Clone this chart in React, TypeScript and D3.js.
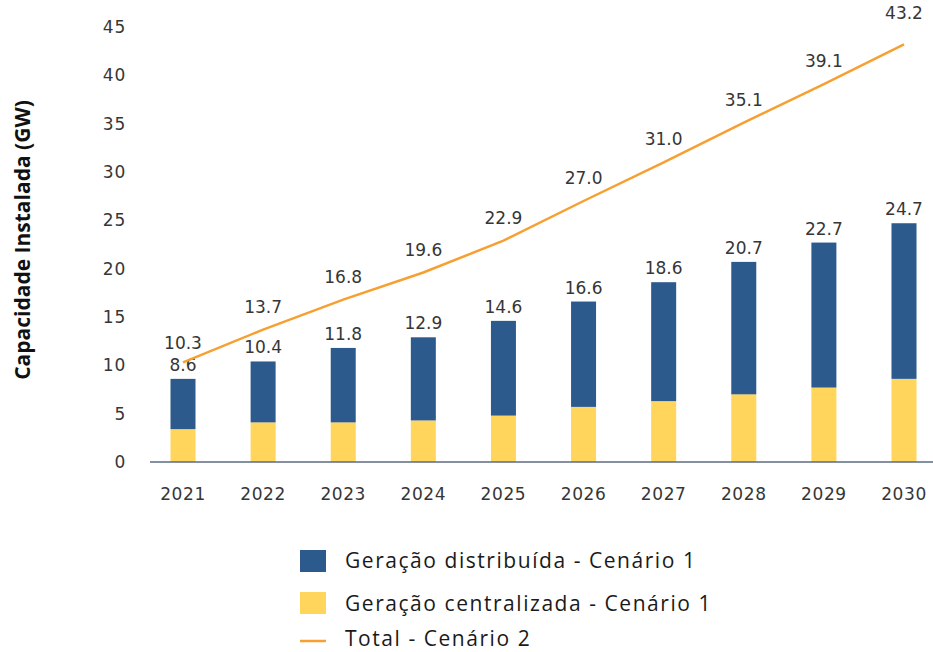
import { useEffect, useRef } from "react";
import * as d3 from "d3";

const years = ["2021", "2022", "2023", "2024", "2025", "2026", "2027", "2028", "2029", "2030"];
const distribuida = [5.2, 6.3, 7.7, 8.6, 9.8, 10.9, 12.3, 13.7, 15.0, 16.1];
const centralizada = [3.4, 4.1, 4.1, 4.3, 4.8, 5.7, 6.3, 7.0, 7.7, 8.6];
const barTotals = [8.6, 10.4, 11.8, 12.9, 14.6, 16.6, 18.6, 20.7, 22.7, 24.7];
const total2 = [10.3, 13.7, 16.8, 19.6, 22.9, 27.0, 31.0, 35.1, 39.1, 43.2];
const yTicks = [0, 5, 10, 15, 20, 25, 30, 35, 40, 45];

const BLUE = "#2d5a8c";
const YELLOW = "#ffd55c";
const ORANGE = "#f7a031";
const TEXT = "#363636";
const NUM_FONT = "'DejaVu Sans', sans-serif";
const LEG_FONT = "'Open Sans', 'Noto Sans', sans-serif";

export default function App() {
  const svgRef = useRef<SVGSVGElement>(null);

  useEffect(() => {
    if (!svgRef.current) return;
    const W = 933;
    const H = 652;
    const svg = d3.select(svgRef.current);
    svg.selectAll("*").remove();
    svg.attr("width", W).attr("height", H).attr("viewBox", `0 0 ${W} ${H}`);

    const x = d3.scalePoint<string>().domain(years).range([183, 904]);
    const y = d3.scaleLinear().domain([0, 45]).range([462, 27]);
    const barW = 25;

    // y ticks
    svg.append("g")
      .selectAll("text")
      .data(yTicks)
      .enter()
      .append("text")
      .attr("x", 126)
      .attr("y", d => y(d))
      .attr("dy", "0.35em")
      .attr("text-anchor", "end")
      .attr("font-family", NUM_FONT)
      .attr("font-size", 17)
      .attr("letter-spacing", 0.8)
      .attr("fill", TEXT)
      .text(d => d);

    // y title
    svg.append("text")
      .attr("transform", `translate(30,240) rotate(-90)`)
      .attr("text-anchor", "middle")
      .attr("font-family", LEG_FONT)
      .attr("font-weight", "bold")
      .attr("font-size", 21)
      .attr("fill", "#111")
      .text("Capacidade Instalada (GW)");

    // bars
    const g = svg.append("g");
    g.selectAll(".cen")
      .data(years)
      .enter()
      .append("rect")
      .attr("x", d => x(d)! - barW / 2)
      .attr("width", barW)
      .attr("y", (_d, i) => y(centralizada[i]))
      .attr("height", (_d, i) => y(0) - y(centralizada[i]))
      .attr("fill", YELLOW);
    g.selectAll(".dist")
      .data(years)
      .enter()
      .append("rect")
      .attr("x", d => x(d)! - barW / 2)
      .attr("width", barW)
      .attr("y", (_d, i) => y(centralizada[i] + distribuida[i]))
      .attr("height", (_d, i) => y(centralizada[i]) - y(centralizada[i] + distribuida[i]))
      .attr("fill", BLUE);

    // axis line
    svg.append("line")
      .attr("x1", 150).attr("x2", 933)
      .attr("y1", y(0)).attr("y2", y(0))
      .attr("stroke", "#5b6a82")
      .attr("stroke-width", 1.5);

    // x labels
    svg.append("g")
      .selectAll("text")
      .data(years)
      .enter()
      .append("text")
      .attr("x", d => x(d)!)
      .attr("y", 500)
      .attr("text-anchor", "middle")
      .attr("font-family", NUM_FONT)
      .attr("font-size", 17)
      .attr("letter-spacing", 0.6)
      .attr("fill", TEXT)
      .text(d => d);

    // bar labels
    svg.append("g")
      .selectAll("text")
      .data(years)
      .enter()
      .append("text")
      .attr("x", d => x(d)!)
      .attr("y", (_d, i) => y(barTotals[i]) - 8)
      .attr("text-anchor", "middle")
      .attr("font-family", NUM_FONT)
      .attr("font-size", 17)
      .attr("fill", TEXT)
      .text((_d, i) => barTotals[i].toFixed(1));

    // total line
    const line = d3.line<number>()
      .x((_d, i) => x(years[i])!)
      .y(d => y(d));
    svg.append("path")
      .datum(total2)
      .attr("d", line)
      .attr("fill", "none")
      .attr("stroke", ORANGE)
      .attr("stroke-width", 2.5);

    svg.append("g")
      .selectAll("text")
      .data(total2)
      .enter()
      .append("text")
      .attr("x", (_d, i) => x(years[i])!)
      .attr("y", (d, i) => y(d) - (i === 0 ? 13 : i === years.length - 1 ? 25 : 17))
      .attr("text-anchor", "middle")
      .attr("font-family", NUM_FONT)
      .attr("font-size", 17)
      .attr("fill", TEXT)
      .text(d => d.toFixed(1));

    // legend
    const leg = svg.append("g").attr("font-family", LEG_FONT).attr("font-size", 21)
      .attr("letter-spacing", 1.55).attr("fill", "#1a1a1a");
    leg.append("rect").attr("x", 300).attr("y", 550).attr("width", 26).attr("height", 22).attr("fill", BLUE);
    leg.append("text").attr("x", 345).attr("y", 561).attr("dy", "0.35em").text("Geração distribuída - Cenário 1");
    leg.append("rect").attr("x", 300).attr("y", 592).attr("width", 26).attr("height", 22).attr("fill", YELLOW);
    leg.append("text").attr("x", 345).attr("y", 604).attr("dy", "0.35em").text("Geração centralizada - Cenário 1");
    leg.append("line").attr("x1", 300).attr("x2", 326).attr("y1", 641).attr("y2", 641)
      .attr("stroke", ORANGE).attr("stroke-width", 2.5);
    leg.append("text").attr("x", 345).attr("y", 639).attr("dy", "0.35em").text("Total - Cenário 2");
  }, []);

  return (
    <div style={{ position: "fixed", top: 0, left: 0, width: 933, height: 652, background: "#fff", overflow: "hidden" }}>
      <svg ref={svgRef} style={{ display: "block" }} />
    </div>
  );
}
